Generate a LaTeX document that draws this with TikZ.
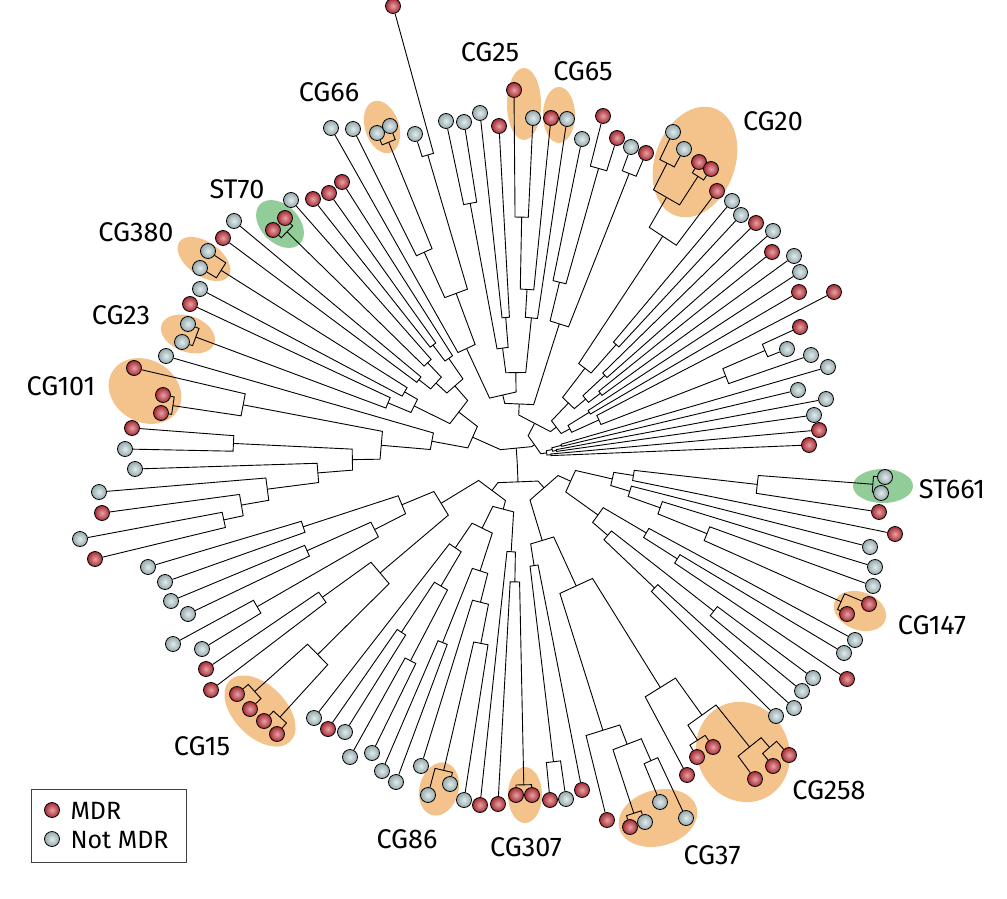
\documentclass[tikz,border=0pt]{standalone}
\usepackage{fontspec}
\setmainfont{Fira Sans}
\usetikzlibrary{calc}

\definecolor{mdrred}{RGB}{196,50,60}
\definecolor{nmdrblue}{RGB}{175,199,203}
\definecolor{cgfill}{RGB}{244,195,140}
\definecolor{stfill}{RGB}{146,204,152}

\pgfdeclarelayer{clades}
\pgfdeclarelayer{tree}
\pgfsetlayers{clades,tree,main}

\begin{document}
\begin{tikzpicture}[x=1pt, y=-1pt,
    branch/.style={line width=0.9pt, line join=miter},
    leaf/.style={circle, draw, line width=0.8pt, minimum size=15pt, inner sep=0pt},
    md/.style={leaf, inner color=mdrred!45!white, outer color=mdrred!85!black},
    nm/.style={leaf, inner color=nmdrblue!35!white, outer color=nmdrblue!85!black},
    cg/.style={fill=cgfill},
    st/.style={fill=stfill},
    lab/.style={font=\fontsize{27}{32}\selectfont},
    key/.style={font=\fontsize{25}{30}\selectfont, anchor=west}]
    \useasboundingbox (0,0) rectangle (1007,899);
    \coordinate (ctr) at (517,457);

    % join two branches at distance #4 from the centre
    \def\jn#1#2#3#4{%
        \path ($(ctr)!#4pt!(#2)$) coordinate (#1-a) ($(ctr)!#4pt!(#3)$) coordinate (#1-b);
        \begin{pgfonlayer}{tree}
            \draw[branch] (#2) -- (#1-a) -- (#1-b) -- (#3);
        \end{pgfonlayer}
        \coordinate (#1) at ($(#1-a)!0.5!(#1-b)$);
    }

    % Highlighted groups
    \begin{pgfonlayer}{clades}
        \fill[cg] (524,104) ellipse [x radius=17pt, y radius=36pt];
        \fill[cg] (559,115) ellipse [x radius=16pt, y radius=28pt];
        \fill[cg, rotate around={18:(382,127)}] (382,127) ellipse [x radius=17pt, y radius=27pt];
        \fill[cg, rotate around={-20:(695,162)}] (695,162) ellipse [x radius=40pt, y radius=57pt];
        \fill[st, rotate around={-45:(280,224)}] (280,224) ellipse [x radius=28pt, y radius=19pt];
        \fill[cg, rotate around={-35:(204,259)}] (204,259) ellipse [x radius=30pt, y radius=17pt];
        \fill[cg, rotate around={-20:(188,334)}] (188,334) ellipse [x radius=28pt, y radius=18pt];
        \fill[cg, rotate around={-30:(145,391)}] (145,391) ellipse [x radius=38pt, y radius=31pt];
        \fill[cg, rotate around={-45:(260,711)}] (260,711) ellipse [x radius=43pt, y radius=26pt];
        \fill[cg, rotate around={-15:(439,789)}] (439,789) ellipse [x radius=19.5pt, y radius=27pt];
        \fill[cg] (525,795) ellipse [x radius=17pt, y radius=28pt];
        \fill[cg, rotate around={15:(658,818)}] (658,818) ellipse [x radius=40pt, y radius=28pt];
        \fill[cg, rotate around={25:(743,752)}] (743,752) ellipse [x radius=46pt, y radius=51pt];
        \fill[cg, rotate around={-20:(860,611)}] (860,611) ellipse [x radius=27pt, y radius=19pt];
        \fill[st] (883,486) ellipse [x radius=30pt, y radius=17pt];
    \end{pgfonlayer}

    % Leaves, clockwise from the east
    \foreach \x/\y/\s [count=\i] in {
        885/477/nm, 881/493/nm, 879/512/md, 895/534/md, 870/547/nm, 875/567/nm,
        873/586/nm, 869/604/md, 847/614/md, 855/640/nm, 844/653/nm, 847/679/md,
        813/678/nm, 802/691/nm, 794/708/nm, 776/716/nm, 789/755/md, 773/766/md,
        755/779/md, 713/747/md, 697/757/md, 687/775/md, 686/818/nm, 660/802/nm,
        645/822/nm, 630/827/md, 607/820/md, 582/790/md, 566/799/nm, 550/800/md,
        532/795/md, 516/795/md, 498/804/md, 480/805/md, 464/800/nm, 450/784/nm,
        428/795/nm, 421/766/nm, 396/782/nm, 382/771/nm, 372/753/nm, 350/757/nm,
        345/732/nm, 328/729/md, 314/718/nm, 277/734/md, 264/721/md, 250/709/md,
        237/694/md, 211/690/md, 206/669/md, 202/649/nm, 173/644/nm, 188/614/nm,
        171/601/nm, 165/582/nm, 148/567/nm, 95/559/md, 80/539/nm, 102/513/md,
        99/492/nm, 135/469/nm, 125/449/nm, 132/428/md, 161/413/md, 163/395/md,
        134/368/md, 166/356/nm, 182/342/nm, 188/324/nm, 190/304/md, 200/289/nm,
        200/268/nm, 208/251/nm, 223/238/md, 234/221/nm, 273/230/md, 285/218/md,
        291/200/nm, 313/199/md, 329/193/md, 342/182/md, 331/128/nm, 353/129/nm,
        377/133/nm, 390/126/nm, 415/134/nm, 393/6/md, 446/121/nm, 464/122/nm,
        480/113/nm, 499/126/md, 514/90/md, 533/118/nm, 551/118/md, 567/119/nm,
        582/139/nm, 603/116/md, 617/138/md, 631/147/nm, 646/153/md, 673/132/nm,
        684/149/nm, 699/162/md, 711/169/md, 717/191/md, 732/201/nm, 741/215/nm,
        756/223/md, 773/231/nm, 772/252/md, 794/256/nm, 800/272/nm, 799/292/md,
        834/292/md, 800/327/md, 787/349/nm, 811/355/nm, 828/367/nm, 798/390/nm,
        826/399/nm, 814/415/nm, 819/430/md, 809/445/md}
        \node[\s] (n\i) at (\x,\y) {};

    % East
    \jn{a1}{n1}{n2}{357}   \jn{a2}{a1}{n3}{242}   \jn{a3}{a2}{n4}{118}
    \jn{a4}{n8}{n9}{355}   \jn{a5}{n7}{a4}{205}   \jn{a6}{n6}{a5}{152}
    \jn{a7}{n5}{a6}{118}   \jn{a8}{a3}{a7}{98}
    \jn{a9}{n11}{n12}{190} \jn{a10}{n10}{a9}{150}
    \jn{a11}{n13}{n14}{250} \jn{a12}{n15}{n16}{190}
    \jn{a13}{a11}{a12}{120} \jn{a14}{a10}{a13}{100} \jn{a15}{a8}{a14}{60}

    % South-east
    \jn{b1}{n17}{n18}{385} \jn{b2}{b1}{n19}{372}  \jn{b3}{n20}{n21}{336}
    \jn{b4}{b3}{b2}{318}   \jn{b5}{b4}{n22}{272}
    \jn{b6}{n23}{n24}{332} \jn{b7}{n25}{n26}{375} \jn{b8}{b6}{b7}{308}
    \jn{b9}{b8}{n27}{287}  \jn{b10}{b5}{b9}{143}
    \jn{b11}{n29}{n30}{307} \jn{b12}{n28}{b11}{110} \jn{b13}{b10}{b12}{88}

    % South
    \jn{c1}{n31}{n32}{328} \jn{c2}{c1}{n33}{125}  \jn{c3}{c2}{n34}{95}
    \jn{c4}{n36}{n37}{322} \jn{c5}{n35}{c4}{190}  \jn{c6}{c5}{n38}{150}
    \jn{c7}{n39}{n40}{200} \jn{c8}{c6}{c7}{120}
    \jn{c9}{n41}{n42}{230} \jn{c10}{n43}{n44}{210} \jn{c11}{c9}{c10}{150}
    \jn{c12}{c11}{n45}{110} \jn{c13}{c8}{c12}{80} \jn{c14}{c3}{c13}{55}

    % South-west
    \jn{d1}{n46}{n47}{352} \jn{d2}{n48}{n49}{352} \jn{d3}{d1}{d2}{281}
    \jn{d4}{n50}{n51}{240} \jn{d5}{d3}{d4}{180}
    \jn{d6}{n52}{n53}{300} \jn{d7}{n54}{n55}{230} \jn{d8}{d6}{d7}{160}
    \jn{d9}{n56}{n57}{225} \jn{d10}{d8}{d9}{125}  \jn{d11}{d5}{d10}{90}

    % West
    \jn{e1}{n58}{n59}{300} \jn{e2}{e1}{n60}{280}  \jn{e3}{e2}{n61}{252}
    \jn{e4}{e3}{n62}{200}  \jn{e5}{n63}{n64}{284} \jn{e6}{e4}{e5}{165}
    \jn{e7}{n65}{n66}{348} \jn{e8}{e7}{n67}{279}  \jn{e9}{e6}{e8}{137}
    \jn{e10}{e9}{n68}{87}

    % North-west
    \jn{f1}{n69}{n70}{343} \jn{f2}{f1}{n71}{140}
    \jn{f3}{n73}{n74}{350} \jn{f4}{n72}{f3}{130}  \jn{f5}{f2}{f4}{115}
    \jn{f6}{n75}{n76}{125} \jn{f7}{n77}{n78}{322} \jn{f8}{f7}{n79}{130}
    \jn{f9}{f6}{f8}{110}   \jn{f10}{n80}{n81}{140} \jn{f11}{f10}{n82}{120}
    \jn{f12}{f9}{f11}{95}  \jn{f13}{f5}{f12}{75}

    % North
    \jn{g1}{n85}{n86}{340} \jn{g2}{n84}{g1}{225}  \jn{g3}{n87}{n88}{315}
    \jn{g4}{g2}{g3}{175}   \jn{g5}{n83}{g4}{120}
    \jn{g6}{n89}{n90}{258} \jn{g7}{n91}{n92}{140} \jn{g8}{g6}{g7}{110}
    \jn{g9}{n93}{n94}{240} \jn{g10}{g9}{n95}{168} \jn{g11}{g10}{n96}{140}
    \jn{g12}{g8}{g11}{85}
    \jn{g13}{n98}{n99}{300} \jn{g14}{n97}{g13}{180} \jn{g15}{n100}{n101}{305}
    \jn{g16}{g14}{g15}{140} \jn{g17}{g5}{g12}{65} \jn{g18}{g17}{g16}{55}

    % North-east
    \jn{h1}{n102}{n103}{330} \jn{h2}{n104}{n105}{334} \jn{h3}{h1}{h2}{300}
    \jn{h4}{h3}{n106}{265} \jn{h5}{n107}{n108}{150} \jn{h6}{h4}{h5}{112}
    \jn{h7}{n109}{n110}{120} \jn{h8}{n111}{n112}{105} \jn{h9}{h7}{h8}{90}
    \jn{h10}{h6}{h9}{75}
    \jn{h11}{n113}{n114}{85} \jn{h12}{n116}{n117}{270} \jn{h13}{h12}{n118}{224}
    \jn{h14}{n115}{h13}{90} \jn{h15}{h11}{h14}{60} \jn{h20}{h10}{h15}{50}
    \jn{h16}{n119}{n120}{46} \jn{h17}{n121}{n122}{40} \jn{h18}{n123}{n124}{34}
    \jn{h19}{h16}{h17}{36} \jn{h21}{h19}{h18}{30}

    % Root
    \jn{r1}{a15}{b13}{45}  \jn{r2}{c14}{d11}{45}
    \jn{r3}{e10}{f13}{50}  \jn{r4}{g18}{h20}{42}  \jn{r4b}{r4}{h21}{24}
    \jn{r5}{r1}{r2}{32}    \jn{r6}{r3}{r4b}{18}   \jn{r7}{r5}{r6}{6}

    % Group labels
    \node[lab] (cg25)  at (490,52)  {CG25};
    \node[lab] (cg65)  at (583,71)  {CG65};
    \node[lab] (cg66)  at (329,92)  {CG66};
    \node[lab] (cg20)  at (773,121) {CG20};
    \node[lab] (st70)  at (237,189) {ST70};
    \node[lab] (cg380) at (136,232) {CG380};
    \node[lab] (cg23)  at (121,315) {CG23};
    \node[lab] (cg101) at (61,386)  {CG101};
    \node[lab] (cg15)  at (202,746) {CG15};
    \node[lab] (cg86)  at (407,839) {CG86};
    \node[lab] (cg307) at (526,847) {CG307};
    \node[lab] (cg37)  at (712,855) {CG37};
    \node[lab] (cg258) at (829,790) {CG258};
    \node[lab] (cg147) at (932,625) {CG147};
    \node[lab] (st661) at (952,489) {ST661};

    % Legend
    \draw[line width=0.8pt, black!75] (31,789) rectangle (186,862);
    \node[md] (keymd) at (52,810) {};
    \node[key] (keymdtxt) at (67,811) {MDR};
    \node[nm] (keynm) at (52,839) {};
    \node[key] (keynmtxt) at (67,840) {Not MDR};
\end{tikzpicture}
\end{document}
